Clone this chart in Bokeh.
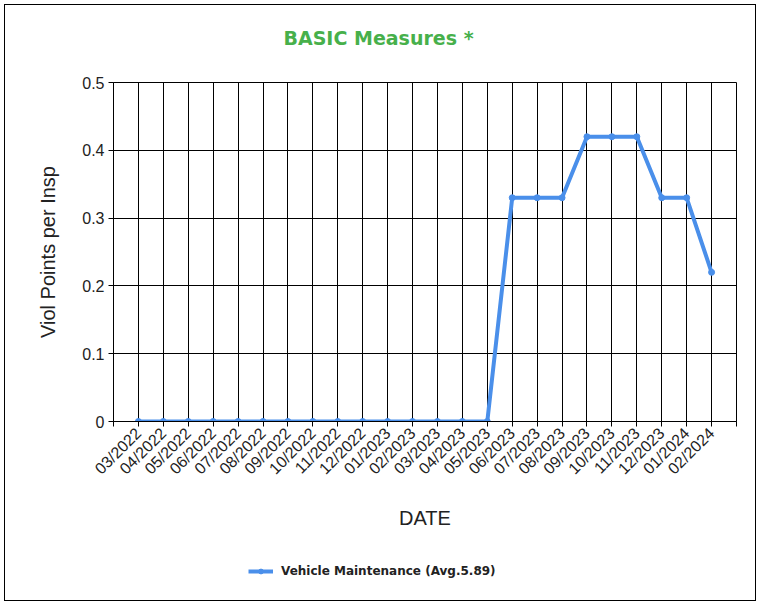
import math
from bokeh.plotting import figure
from bokeh.layouts import column
from bokeh.models import FixedTicker, Legend, LegendItem, ColumnDataSource, Title
from bokeh.embed import file_html
from bokeh.resources import INLINE

months = ["03/2022", "04/2022", "05/2022", "06/2022", "07/2022", "08/2022",
          "09/2022", "10/2022", "11/2022", "12/2022", "01/2023", "02/2023",
          "03/2023", "04/2023", "05/2023", "06/2023", "07/2023", "08/2023",
          "09/2023", "10/2023", "11/2023", "12/2023", "01/2024", "02/2024"]
values = [0, 0, 0, 0, 0, 0, 0, 0, 0, 0, 0, 0, 0, 0, 0,
          0.33, 0.33, 0.33, 0.42, 0.42, 0.42, 0.33, 0.33, 0.22]
y_ticks = [0, 0.1, 0.2, 0.3, 0.4, 0.5]
y_tick_labels = ["0", "0.1", "0.2", "0.3", "0.4", "0.5"]
series_name = "Vehicle Maintenance (Avg.5.89)"
title_text = "BASIC Measures *"

blue = "#4a8fea"
idx = list(range(len(months)))
src = ColumnDataSource(data=dict(x=idx, y=values, m=months))

p = figure(width=750, height=535, output_backend="svg", toolbar_location=None,
           title=None,
           x_range=(-1, len(months)), y_range=(0, 0.5),
           min_border_left=108, min_border_right=19, min_border_top=77,
           min_border_bottom=119)

# spacer between the frame and the title, then the title itself
spacer = Title(text=" ", text_font_size="1px", standoff=31)
p.add_layout(spacer, "above")
title = Title(text=title_text, align="left", vertical_align="bottom",
              text_font="DejaVu Sans", text_font_size="19px",
              text_font_style="bold", text_color="#47b04b",
              offset=170, standoff=0)
p.add_layout(title, "above")

p.outline_line_color = "black"
p.outline_line_alpha = 1
p.background_fill_color = "white"
p.border_fill_color = "white"

xt = FixedTicker(ticks=list(range(-1, len(months) + 1)))
p.xaxis.ticker = xt
overrides = {i: m for i, m in enumerate(months)}
overrides[-1] = ""
overrides[len(months)] = ""
p.xaxis.major_label_overrides = overrides
p.xaxis.major_label_orientation = math.pi / 4
p.xaxis.axis_label = "DATE"

yt = FixedTicker(ticks=y_ticks)
p.yaxis.ticker = yt
p.yaxis.major_label_overrides = {t: l for t, l in zip(y_ticks, y_tick_labels)}
p.yaxis.axis_label = "Viol Points per Insp"

for ax in (p.xaxis[0], p.yaxis[0]):
    ax.axis_line_color = "black"
    ax.major_tick_line_color = "black"
    ax.major_tick_out = 5
    ax.major_tick_in = 0
    ax.minor_tick_line_color = None
    ax.major_label_text_font = "Liberation Sans"
    ax.major_label_text_font_size = "16px"
    ax.major_label_text_color = "#222222"
    ax.axis_label_text_font = "Liberation Sans"
    ax.axis_label_text_font_size = "20px"
    ax.axis_label_text_font_style = "normal"
    ax.axis_label_text_color = "#222222"
p.xaxis.major_label_standoff = 4
p.xaxis.axis_label_standoff = 21
p.yaxis.major_label_standoff = 4
p.yaxis.axis_label_standoff = 20

p.xgrid.ticker = xt
p.ygrid.ticker = yt
for g in (p.xgrid[0], p.ygrid[0]):
    g.grid_line_color = "black"
    g.grid_line_alpha = 1
    g.grid_line_width = 1

p.line("x", "y", source=src, line_color=blue, line_width=4)
p.scatter("x", "y", source=src, size=6, fill_color=blue, line_color=blue)

# legend strip below the chart (same series, drawn out of its visible range)
lf = figure(width=750, height=60, output_backend="svg", toolbar_location=None,
            x_range=(-30, -29), y_range=(0, 1), min_border=0,
            min_border_left=108, min_border_right=19,
            x_axis_type=None, y_axis_type=None)
lf.grid.visible = False
lf.outline_line_color = None
lf.border_fill_color = "white"
lln = lf.line("x", "y", source=src, line_color=blue, line_width=4)
lsc = lf.scatter("x", "y", source=src, size=4, fill_color=blue, line_color=blue)
legend = Legend(items=[LegendItem(label=series_name, renderers=[lln, lsc])],
                location=(135, 22), orientation="horizontal",
                border_line_color=None, background_fill_alpha=0,
                padding=0, margin=0, glyph_width=25, glyph_height=12,
                label_standoff=8, label_text_font="DejaVu Sans",
                label_text_font_size="12px", label_text_font_style="bold",
                label_text_color="#222222")
lf.add_layout(legend, "center")

layout = column(p, lf, spacing=0,
                styles={"border": "1px solid black", "margin-left": "4px",
                        "margin-top": "4px"})

open("out.html", "w").write(file_html(layout, INLINE))
